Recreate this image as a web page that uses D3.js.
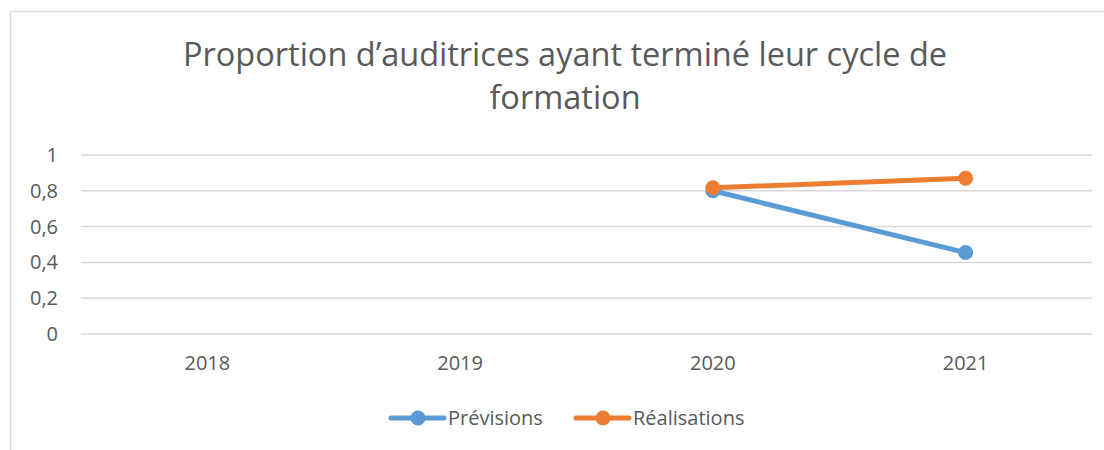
<!DOCTYPE html>
<meta charset="utf-8">
<style>
body { margin: 0; background: #fff; }
text { font-family: "Open Sans", "Noto Sans", sans-serif; fill: #595959; }
.grid line { stroke: #d9d9d9; stroke-width: 1.5px; }
.line { fill: none; stroke-width: 5px; stroke-linecap: round; }
</style>
<svg id="chart" width="1104" height="450"></svg>
<script src="https://cdn.jsdelivr.net/npm/d3@7"></script>
<script>
var years = ["2018", "2019", "2020", "2021"];
var previsions = [null, null, 0.80, 0.455];
var realisations = [null, null, 0.817, 0.87];
var yTicks = [0, 0.2, 0.4, 0.6, 0.8, 1];
var titleLines = ["Proportion d\u2019auditrices ayant terminé leur cycle de", "formation"];

var series = [
  {name: "Prévisions", values: previsions, color: "#5b9bd5"},
  {name: "Réalisations", values: realisations, color: "#ed7d31"}
];

var svg = d3.select("#chart");
var margin = {top: 155, left: 81, right: 1092, bottom: 334};

// chart frame
svg.append("rect")
    .attr("x", 10.5).attr("y", 11.5)
    .attr("width", 1120).attr("height", 460)
    .attr("fill", "none").attr("stroke", "#d9d9d9").attr("stroke-width", 1.5);

var x = d3.scaleBand()
    .domain(years)
    .range([margin.left, margin.right]);
var y = d3.scaleLinear()
    .domain([0, 1])
    .range([margin.bottom, margin.top]);

// title
svg.append("text")
    .attr("text-anchor", "middle")
    .attr("font-size", 32.5)
  .selectAll("tspan")
  .data(titleLines)
  .enter().append("tspan")
    .attr("x", 565)
    .attr("y", function(d, i) { return 66 + i * 43; })
    .text(function(d) { return d; });

// gridlines + y labels
var grid = svg.append("g").attr("class", "grid");
grid.selectAll("line")
  .data(yTicks)
  .enter().append("line")
    .attr("x1", margin.left).attr("x2", margin.right)
    .attr("y1", function(d) { return y(d); })
    .attr("y2", function(d) { return y(d); });
svg.append("g").selectAll("text")
  .data(yTicks)
  .enter().append("text")
    .attr("x", 58)
    .attr("y", function(d) { return y(d); })
    .attr("dy", "0.35em")
    .attr("text-anchor", "end")
    .attr("font-size", 20)
    .text(function(d) { return String(d).replace(".", ","); });

// x labels
svg.append("g").selectAll("text")
  .data(years)
  .enter().append("text")
    .attr("x", function(d) { return x(d) + x.bandwidth() / 2; })
    .attr("y", 363)
    .attr("dy", "0.35em")
    .attr("text-anchor", "middle")
    .attr("font-size", 20)
    .text(function(d) { return d; });

var line = d3.line()
    .defined(function(d) { return d.v != null; })
    .x(function(d) { return x(d.year) + x.bandwidth() / 2; })
    .y(function(d) { return y(d.v); });

series.forEach(function(s) {
  var pts = years.map(function(yr, i) { return {year: yr, v: s.values[i]}; });
  svg.append("path")
    .datum(pts)
    .attr("class", "line")
    .attr("stroke", s.color)
    .attr("d", line);
  svg.append("g").selectAll("circle")
    .data(pts.filter(function(d) { return d.v != null; }))
    .enter().append("circle")
      .attr("cx", function(d) { return x(d.year) + x.bandwidth() / 2; })
      .attr("cy", function(d) { return y(d.v); })
      .attr("r", 7.5)
      .attr("fill", s.color);
});

// legend
var legendX = [391, 576];
var lg = svg.append("g").selectAll("g")
  .data(series)
  .enter().append("g")
    .attr("transform", function(d, i) { return "translate(" + legendX[i] + ",418)"; });
lg.append("line")
    .attr("x1", 0).attr("x2", 53)
    .attr("stroke", function(d) { return d.color; })
    .attr("stroke-width", 5).attr("stroke-linecap", "round");
lg.append("circle")
    .attr("cx", 27).attr("r", 7.5)
    .attr("fill", function(d) { return d.color; });
lg.append("text")
    .attr("x", 57).attr("dy", "0.35em")
    .attr("font-size", 20)
    .text(function(d) { return d.name; });
</script>
